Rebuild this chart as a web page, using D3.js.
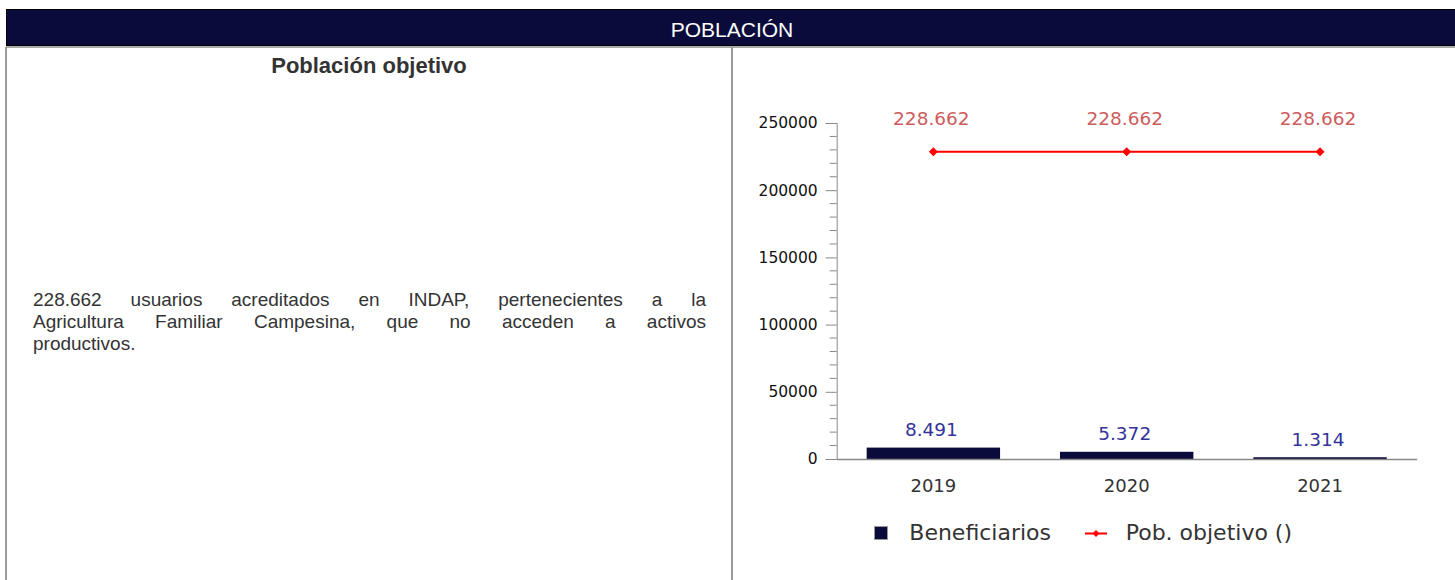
<!DOCTYPE html>
<html>
<head>
<meta charset="utf-8">
<script src="https://cdn.jsdelivr.net/npm/d3@7"></script>
<style>
  body { margin: 0; background: #fff; width: 1455px; height: 580px; overflow: hidden; position: relative; font-family: Arial, "Liberation Sans", sans-serif; }
  #head { position: absolute; left: 6px; top: 9px; width: 1449px; height: 37px; background: #0b0b3b; border-top: 1px solid #000; border-left: 1px solid #000; border-bottom: 1px solid #000; box-sizing: border-box; }
  #head-under { position: absolute; left: 6px; top: 46px; width: 1449px; height: 2px; background: #aaa; }
  #head-text { position: absolute; left: 6px; top: 11px; width: 1452px; text-align: center; color: #fff; font-size: 21px; line-height: 38px; }
  .vline { position: absolute; top: 47px; width: 2px; height: 540px; background: #999; }
  #title { position: absolute; left: 7px; top: 53px; width: 724px; text-align: center; font-weight: bold; font-size: 22px; line-height: 26px; color: #333; }
  #desc { position: absolute; left: 33px; top: 289px; width: 673px; font-size: 19px; line-height: 22px; color: #333; }
  #desc .jl { text-align: justify; text-align-last: justify; }
  svg { position: absolute; left: 0; top: 0; }
</style>
</head>
<body>
<div id="head"></div>
<div id="head-under"></div>
<div id="head-text">POBLACIÓN</div>
<div class="vline" style="left:5px"></div>
<div class="vline" style="left:731px"></div>
<div id="title">Población objetivo</div>
<div id="desc">
  <div class="jl">228.662 usuarios acreditados en INDAP, pertenecientes a la</div>
  <div class="jl">Agricultura Familiar Campesina, que no acceden a activos</div>
  <div>productivos.</div>
</div>
<div id="chart"></div>
<script>
var years = ["2019", "2020", "2021"];
var beneficiarios = [8491, 5372, 1314];
var pobObjetivo = [228662, 228662, 228662];
var yTicks = [0, 50000, 100000, 150000, 200000, 250000];
var legendNames = ["Beneficiarios", "Pob. objetivo ()"];

var navy = "#0b0b3b";
var chartFont = "'DejaVu Sans', Verdana, sans-serif";

var es = d3.formatLocale({ decimal: ",", thousands: ".", grouping: [3], currency: ["$", ""] });
var fmt = es.format(",d");

var svg = d3.select("#chart")
  .append("svg")
  .attr("width", 1455)
  .attr("height", 580);

var x = d3.scaleBand()
  .domain(years)
  .range([836.7, 1416.7])
  .padding(0);

var y = d3.scaleLinear()
  .domain([0, 250000])
  .range([459, 123]);

var barW = x.bandwidth() * 0.69;

// bars first so the axis line sits on top of them
svg.append("g")
  .selectAll("rect")
  .data(years)
  .enter()
  .append("rect")
  .attr("x", function (d) { return x(d) + (x.bandwidth() - barW) / 2; })
  .attr("width", barW)
  .attr("y", function (d, i) { return y(beneficiarios[i]); })
  .attr("height", function (d, i) { return y(0) - y(beneficiarios[i]); })
  .attr("fill", navy);

// minor ticks every 10000
var yMinor = d3.range(0, 250001, 10000).filter(function (d) { return d % 50000 !== 0; });
svg.append("g")
  .selectAll("line")
  .data(yMinor)
  .enter()
  .append("line")
  .attr("x1", 829.7)
  .attr("x2", 836.7)
  .attr("y1", function (d) { return y(d); })
  .attr("y2", function (d) { return y(d); })
  .attr("stroke", "#888")
  .attr("stroke-width", 1);

// y axis with major ticks
var yAxis = svg.append("g")
  .attr("transform", "translate(836.7,0)")
  .call(d3.axisLeft(y).tickValues(yTicks).tickSize(11).tickPadding(8).tickFormat(d3.format("d")));
yAxis.select(".domain").attr("stroke", "#888");
yAxis.selectAll(".tick line").attr("stroke", "#888");
yAxis.selectAll(".tick text")
  .attr("fill", "#111")
  .style("font-family", chartFont)
  .style("font-size", "15.5px");

// x axis line + labels
var xAxis = svg.append("g")
  .attr("transform", "translate(0,459)")
  .call(d3.axisBottom(x).tickSize(0).tickPadding(20));
xAxis.select(".domain").attr("stroke", "#888").attr("stroke-width", 1.5);
xAxis.selectAll(".tick text")
  .attr("fill", "#333")
  .attr("dy", "0.72em")
  .style("font-family", chartFont)
  .style("font-size", "18px");

svg.append("g")
  .selectAll("text")
  .data(years)
  .enter()
  .append("text")
  .attr("x", function (d) { return x(d) + x.bandwidth() / 2 - 2; })
  .attr("y", function (d, i) { return y(beneficiarios[i]) - 11.5; })
  .attr("text-anchor", "middle")
  .attr("fill", "#333399")
  .style("font-family", chartFont)
  .style("font-size", "18.5px")
  .text(function (d, i) { return fmt(beneficiarios[i]); });

// line series
var diamond = {
  draw: function (ctx, size) {
    var r = Math.sqrt(size) / 2;
    ctx.moveTo(0, -r);
    ctx.lineTo(r, 0);
    ctx.lineTo(0, r);
    ctx.lineTo(-r, 0);
    ctx.closePath();
  }
};

var line = d3.line()
  .x(function (d, i) { return x(years[i]) + x.bandwidth() / 2; })
  .y(function (d) { return y(d); });

svg.append("path")
  .datum(pobObjetivo)
  .attr("d", line)
  .attr("fill", "none")
  .attr("stroke", "#ff0000")
  .attr("stroke-width", 2);

svg.append("g")
  .selectAll("path")
  .data(pobObjetivo)
  .enter()
  .append("path")
  .attr("transform", function (d, i) { return "translate(" + (x(years[i]) + x.bandwidth() / 2) + "," + y(d) + ")"; })
  .attr("d", d3.symbol().type(diamond).size(81))
  .attr("fill", "#ff0000");

svg.append("g")
  .selectAll("text")
  .data(pobObjetivo)
  .enter()
  .append("text")
  .attr("x", function (d, i) { return x(years[i]) + x.bandwidth() / 2 - 2; })
  .attr("y", function (d) { return y(d) - 27; })
  .attr("text-anchor", "middle")
  .attr("fill", "#cd5c5c")
  .style("font-family", chartFont)
  .style("font-size", "18.5px")
  .text(function (d) { return fmt(d); });

// legend
var legend = svg.append("g").attr("transform", "translate(0,533.5)");
legend.append("rect")
  .attr("x", 874.5).attr("y", -7)
  .attr("width", 13).attr("height", 13)
  .attr("fill", navy)
  .attr("stroke", "#999")
  .attr("stroke-width", 1);
legend.append("text")
  .attr("x", 909.3).attr("y", 6)
  .attr("fill", "#333")
  .style("font-family", chartFont)
  .style("font-size", "22px")
  .text(legendNames[0]);
legend.append("line")
  .attr("x1", 1085).attr("x2", 1107)
  .attr("y1", 0).attr("y2", 0)
  .attr("stroke", "#ff0000")
  .attr("stroke-width", 2);
legend.append("path")
  .attr("transform", "translate(1096,0)")
  .attr("d", d3.symbol().type(diamond).size(49))
  .attr("fill", "#ff0000");
legend.append("text")
  .attr("x", 1125.7).attr("y", 6)
  .attr("fill", "#333")
  .style("font-family", chartFont)
  .style("font-size", "22px")
  .text(legendNames[1]);
</script>
</body>
</html>
